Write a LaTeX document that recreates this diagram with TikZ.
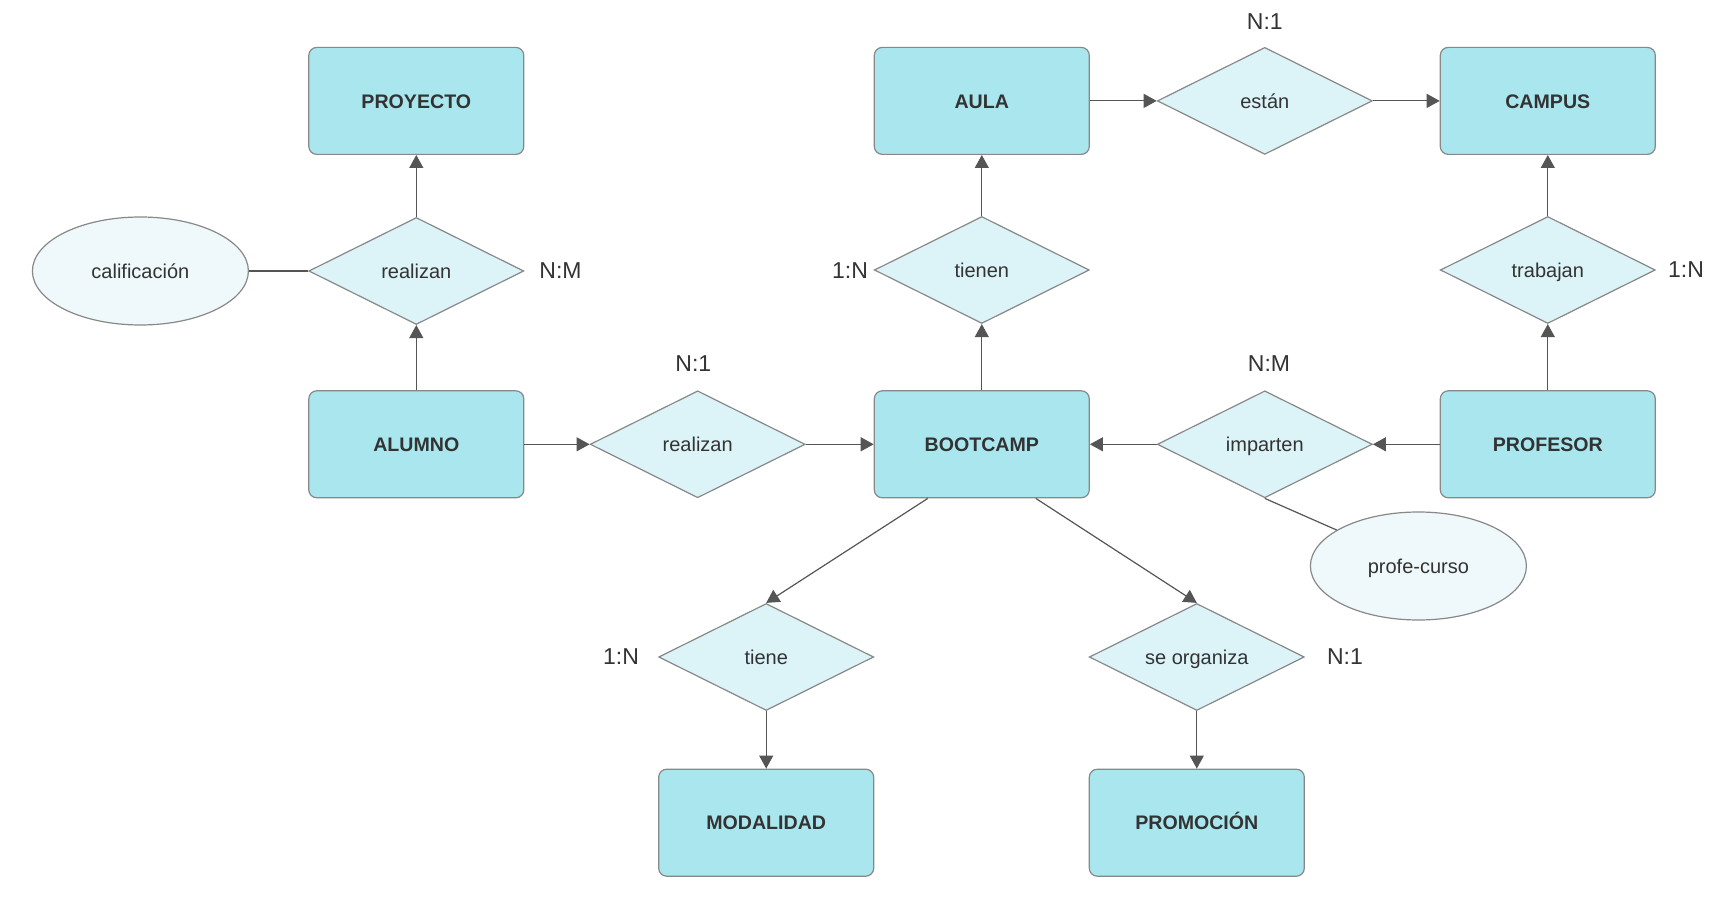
\documentclass[tikz,border=0pt]{standalone}
\usepackage{fontspec}
\setmainfont{Liberation Sans}
\usetikzlibrary{shapes.geometric,arrows.meta}

\definecolor{entfill}{HTML}{A9E6EE}
\definecolor{relfill}{HTML}{DCF4F8}
\definecolor{atrfill}{HTML}{EFF9FB}
\definecolor{borde}{HTML}{888888}
\definecolor{linea}{HTML}{555555}
\definecolor{texto}{HTML}{333333}

\begin{document}
\begin{tikzpicture}[x=0.5pt,y=-0.5pt,
    entidad/.style={rectangle,rounded corners=4pt,draw=borde,fill=entfill,line width=0.6pt,
      minimum width=107.5pt,minimum height=53.5pt,inner sep=0pt,text=texto,
      text height=0.72em,text depth=0pt,
      font=\fontsize{9.8}{11}\selectfont\bfseries},
    relacion/.style={diamond,aspect=2,draw=borde,fill=relfill,line width=0.6pt,
      minimum width=107.5pt,minimum height=53.5pt,inner sep=0pt,text=texto,
      text height=0.72em,text depth=0pt,
      font=\fontsize{10}{11}\selectfont},
    atributo/.style={ellipse,draw=borde,fill=atrfill,line width=0.6pt,
      minimum width=108pt,minimum height=54pt,inner sep=0pt,text=texto,
      text height=0.72em,text depth=0pt,
      font=\fontsize{10}{11}\selectfont},
    card/.style={text=texto,text height=0.72em,text depth=0pt,
      font=\fontsize{11.5}{13}\selectfont},
    conector/.style={draw=linea,line width=0.6pt}]

      \useasboundingbox (0,0) rectangle (1720,898);

      \begin{scope}[every node/.style={entidad}]
        \node (proyecto)  at (416.3,100.9)  {PROYECTO};
        \node (aula)      at (981.8,100.9)  {AULA};
        \node (campus)    at (1547.8,100.9) {CAMPUS};
        \node (alumno)    at (416.3,444.3)  {ALUMNO};
        \node (bootcamp)  at (981.8,444.3)  {BOOTCAMP};
        \node (profesor)  at (1547.8,444.3) {PROFESOR};
        \node (modalidad) at (766.2,822.7)  {MODALIDAD};
        \node (promocion) at (1196.8,822.7) {PROMOCIÓN};
      \end{scope}

      \begin{scope}[every node/.style={relacion}]
        \node (realizanP) at (416.3,271)    {realizan};
        \node (tienen)    at (981.8,270)    {tienen};
        \node (trabajan)  at (1547.8,270)   {trabajan};
        \node (estan)     at (1264.8,100.9) {están};
        \node (realizanB) at (697.7,444.3)  {realizan};
        \node (imparten)  at (1264.8,444.3) {imparten};
        \node (tiene)     at (766.2,657)    {tiene};
        \node (organiza)  at (1196.8,657)   {se organiza};
      \end{scope}

      \begin{scope}[every node/.style={atributo}]
        \node (calif)      at (140.4,271)  {calificación};
        \node (profecurso) at (1418.4,566) {profe-curso};
      \end{scope}

      \begin{scope}[every node/.style={card}]
        \node (cProyecto) at (560.5,271)  {N:M};
        \node (cTienen)   at (850,271)    {1:N};
        \node (cEstan)    at (1264.8,22)  {N:1};
        \node (cTrabajan) at (1686,270)   {1:N};
        \node (cRealizan) at (693.3,364)  {N:1};
        \node (cImparten) at (1269,364)   {N:M};
        \node (cTiene)    at (621,657)    {1:N};
        \node (cOrganiza) at (1345,657)   {N:1};
      \end{scope}

      \begin{scope}[every edge/.style={conector,-{Triangle[length=6.5pt,width=7pt]}}]
        \path (alumno)    edge (realizanP);
        \path (realizanP) edge (proyecto);
        \path (alumno)    edge (realizanB);
        \path (realizanB) edge (bootcamp);
        \path (bootcamp)  edge (tienen);
        \path (tienen)    edge (aula);
        \path (aula)      edge (estan);
        \path (estan)     edge (campus);
        \path (profesor)  edge (trabajan);
        \path (trabajan)  edge (campus);
        \path (profesor)  edge (imparten);
        \path (imparten)  edge (bootcamp);
        \path ([xshift=-27pt]bootcamp.south) edge (tiene.north);
        \path ([xshift=27pt]bootcamp.south)  edge (organiza.north);
        \path (tiene)     edge (modalidad);
        \path (organiza)  edge (promocion);
      \end{scope}

      \begin{scope}[every edge/.style={conector}]
        \path (calif)          edge (realizanP);
        \path (imparten.south) edge (profecurso);
      \end{scope}

    \end{tikzpicture}
\end{document}
